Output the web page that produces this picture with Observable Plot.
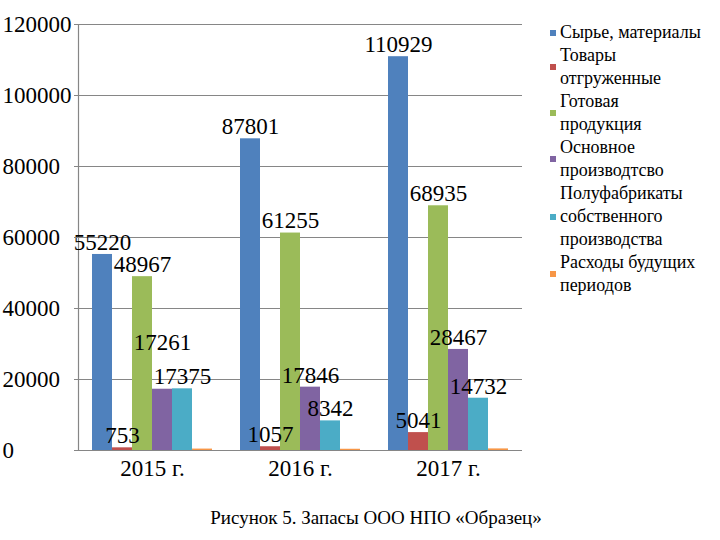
<!DOCTYPE html>
<html><head><meta charset="utf-8">
<script src="https://cdn.jsdelivr.net/npm/d3@7"></script>
<script src="https://cdn.jsdelivr.net/npm/@observablehq/plot@0.6"></script>
<style>
body{margin:0;background:#fff;font-family:"Liberation Serif","DejaVu Serif",serif;}
#wrap{position:relative;width:720px;height:540px;overflow:hidden;}
#legend{position:absolute;left:550px;top:21px;width:170px;font-size:18px;line-height:23px;color:#000}
.item{display:flex;align-items:center}
.sw{width:6px;height:6px;flex:none;margin-right:4px}
.tx{max-width:141.5px}
#caption{position:absolute;top:507px;left:376px;transform:translateX(-50%);white-space:nowrap;font-size:19px;color:#000}
</style></head><body><div id="wrap"><div id="chart"></div><div id="legend"></div><div id="caption"></div></div>
<script>
const years = ["2015 г.", "2016 г.", "2017 г."];
const seriesNames = ["Сырье, материалы", "Товары отгруженные", "Готовая продукция", "Основное производтсво", "Полуфабрикаты собственного производства", "Расходы будущих периодов"];
const colors = ["#4F81BD", "#C0504D", "#9BBB59", "#8064A2", "#4BACC6", "#F79646"];
const rawMaterials = [55220, 87801, 110929];
const goodsShipped = [753, 1057, 5041];
const finishedProducts = [48967, 61255, 68935];
const mainProduction = [17261, 17846, 28467];
const semiFinished = [17375, 8342, 14732];
const deferredExpenses = [400, 350, 450];
const yTicks = [0, 20000, 40000, 60000, 80000, 100000, 120000];
const captionText = "Рисунок 5. Запасы ООО НПО «Образец»";

const seriesValues = [rawMaterials, goodsShipped, finishedProducts, mainProduction, semiFinished, deferredExpenses];
const data = [];
years.forEach((year, yi) => seriesNames.forEach((s, si) => data.push({year, series: s, value: seriesValues[si][yi], si})));

const labelled = data.filter(d => d.si < 5 && !(d.si === 3 && d.year === years[0]));
const shifted = data.filter(d => d.si === 3 && d.year === years[0]);
const grid = "#868686";
const serif = "'Liberation Serif', 'DejaVu Serif', serif";

const chart = Plot.plot({
  width: 720, height: 490,
  marginLeft: 77, marginRight: 198, marginTop: 24, marginBottom: 40,
  style: {fontFamily: serif, fontSize: "23px", color: "#000", background: "white", overflow: "visible"},
  fx: {domain: years, padding: 0, label: null},
  x: {domain: seriesNames, paddingInner: 0, paddingOuter: 0.53, axis: null},
  y: {domain: [0, 120000], label: null},
  color: {domain: seriesNames, range: colors},
  marks: [
    Plot.ruleY(yTicks, {stroke: grid, strokeWidth: 1.2}),
    Plot.frame({anchor: "left", facetAnchor: "left", stroke: grid, strokeWidth: 1.2}),
    Plot.barY(data, {fx: "year", x: "series", y: "value", fill: "series"}),
    Plot.text(labelled, {fx: "year", x: "series", y: "value", text: d => String(d.value), dy: -12, lineAnchor: "middle", fontSize: 23, fontFamily: serif, fill: "#000"}),
    Plot.text(shifted, {fx: "year", x: "series", y: "value", text: d => String(d.value), dy: -47, lineAnchor: "middle", fontSize: 23, fontFamily: serif, fill: "#000"}),
    Plot.axisY({ticks: yTicks, tickSize: 4, tickPadding: 72, textAnchor: "start", tickFormat: d => String(d), fontSize: 23, fontFamily: serif, stroke: grid, label: null}),
    Plot.axisFx({anchor: "bottom", tickSize: 0, tickPadding: 9, fontSize: 23, fontFamily: serif, label: null})
  ]
});
document.getElementById("chart").appendChild(chart);

const legend = document.getElementById("legend");
seriesNames.forEach((s, i) => {
  const it = document.createElement("div"); it.className = "item";
  const sw = document.createElement("span"); sw.className = "sw"; sw.style.background = colors[i];
  const tx = document.createElement("span"); tx.className = "tx"; tx.textContent = s;
  it.appendChild(sw); it.appendChild(tx); legend.appendChild(it);
});
document.getElementById("caption").textContent = captionText;
</script></body></html>
